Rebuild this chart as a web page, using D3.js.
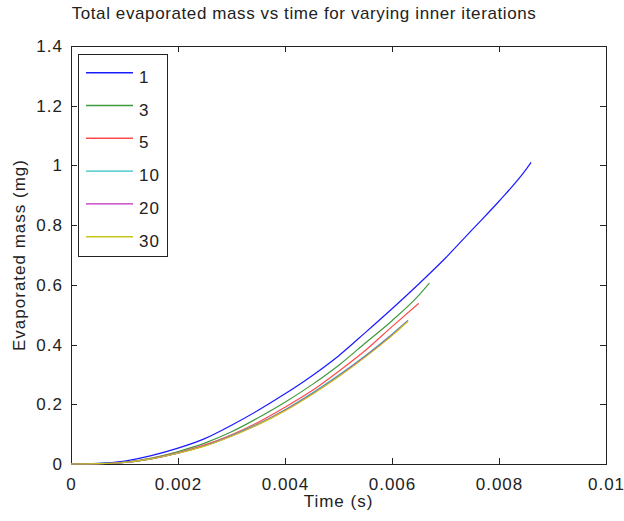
<!DOCTYPE html>
<html>
<head>
<meta charset="utf-8">
<script src="https://cdn.jsdelivr.net/npm/d3@7"></script>
<style>
  body { margin: 0; background: #fff; }
  text { font-family: "Liberation Sans", Arial, sans-serif; fill: #222; }
</style>
</head>
<body>
<script>
// values (time in s, mass in mg)
const seriesNames = ["1", "3", "5", "10", "20", "30"];
const seriesColors = ["#1a1aff", "#3f9a3f", "#ff4a4a", "#2fc2c2", "#bf2cbf", "#c6c61e"];

const time1 = [0, 0.0005, 0.001, 0.0015, 0.002, 0.0025, 0.003, 0.0035, 0.004, 0.0045, 0.005, 0.0055, 0.006, 0.0065, 0.007, 0.0075, 0.008, 0.0085, 0.0086];
const mass1 = [0, 0.002, 0.01, 0.028, 0.053, 0.085, 0.13, 0.18, 0.235, 0.295, 0.362, 0.44, 0.52, 0.603, 0.69, 0.785, 0.88, 0.985, 1.01];

const time3 = [0, 0.0005, 0.001, 0.0015, 0.002, 0.0025, 0.003, 0.0035, 0.004, 0.0045, 0.005, 0.0055, 0.006, 0.0065, 0.0067];
const mass3 = [0, 0.001, 0.006, 0.02, 0.042, 0.07, 0.108, 0.155, 0.207, 0.265, 0.33, 0.405, 0.48, 0.565, 0.606];

const time5 = [0, 0.0005, 0.001, 0.0015, 0.002, 0.0025, 0.003, 0.0035, 0.004, 0.0045, 0.005, 0.0055, 0.006, 0.0065];
const mass5 = [0, 0.001, 0.005, 0.018, 0.038, 0.064, 0.098, 0.14, 0.19, 0.245, 0.31, 0.38, 0.46, 0.538];

const time10 = [0, 0.0005, 0.001, 0.0015, 0.002, 0.0025, 0.003, 0.0035, 0.004, 0.0045, 0.005, 0.0055, 0.006, 0.0063];
const mass10 = [0, 0.001, 0.005, 0.017, 0.037, 0.061, 0.095, 0.135, 0.182, 0.237, 0.297, 0.363, 0.435, 0.481];

const time20 = [0, 0.0005, 0.001, 0.0015, 0.002, 0.0025, 0.003, 0.0035, 0.004, 0.0045, 0.005, 0.0055, 0.006, 0.0063];
const mass20 = [0, 0.001, 0.005, 0.017, 0.036, 0.061, 0.094, 0.133, 0.18, 0.234, 0.294, 0.36, 0.432, 0.48];

const time30 = [0, 0.0005, 0.001, 0.0015, 0.002, 0.0025, 0.003, 0.0035, 0.004, 0.0045, 0.005, 0.0055, 0.006, 0.0063];
const mass30 = [0, 0.001, 0.005, 0.017, 0.036, 0.06, 0.093, 0.132, 0.178, 0.232, 0.292, 0.358, 0.43, 0.478];

const xTicks = [0, 0.002, 0.004, 0.006, 0.008, 0.01];
const xTickLabels = ["0", "0.002", "0.004", "0.006", "0.008", "0.01"];
const yTicks = [0, 0.2, 0.4, 0.6, 0.8, 1, 1.2, 1.4];
const yTickLabels = ["0", "0.2", "0.4", "0.6", "0.8", "1", "1.2", "1.4"];

const titleText = "Total evaporated mass vs time for varying inner iterations";
const xLabelText = "Time (s)";
const yLabelText = "Evaporated mass (mg)";

const allTimes = [time1, time3, time5, time10, time20, time30];
const allMasses = [mass1, mass3, mass5, mass10, mass20, mass30];

let margin = null, width = null, height = null;
let svg = null, root = null;
let x = null, y = null;

setupCanvasSize();
appendSvg("body");
setupScales();
appendAxes();
appendLines();
appendLabels();
appendLegend();

function setupCanvasSize() {
  margin = {top: 46, left: 71, bottom: 57, right: 18};
  width = 624 - margin.left - margin.right;
  height = 521 - margin.top - margin.bottom;
}

function appendSvg(domElement) {
  root = d3.select(domElement).append("svg")
    .attr("width", 624)
    .attr("height", 521);
  svg = root.append("g")
    .attr("transform", `translate(${margin.left}, ${margin.top})`);
}

function setupScales() {
  x = d3.scaleLinear().domain([0, 0.01]).range([0, width]);
  y = d3.scaleLinear().domain([0, 1.4]).range([height, 0]);
}

function styleAxis(g) {
  g.selectAll("path").attr("stroke", "#222").attr("shape-rendering", "crispEdges");
  g.selectAll("line").attr("stroke", "#222").attr("shape-rendering", "crispEdges");
  g.selectAll("text").attr("font-size", 17).attr("fill", "#222")
    .attr("letter-spacing", 1)
    .attr("font-family", "'Liberation Sans', Arial, sans-serif");
}

function appendAxes() {
  // bottom + left with labels, top + right as mirrored ticks (box on)
  svg.append("g")
    .attr("transform", `translate(0, ${height})`)
    .call(d3.axisBottom(x).tickValues(xTicks)
      .tickFormat((d, i) => xTickLabels[i])
      .tickSizeInner(-6).tickSizeOuter(0).tickPadding(14))
    .call(styleAxis);

  svg.append("g")
    .call(d3.axisLeft(y).tickValues(yTicks)
      .tickFormat((d, i) => yTickLabels[i])
      .tickSizeInner(-6).tickSizeOuter(0).tickPadding(8))
    .call(styleAxis);

  svg.append("g")
    .call(d3.axisTop(x).tickValues(xTicks).tickFormat("")
      .tickSizeInner(-6).tickSizeOuter(0))
    .call(styleAxis);

  svg.append("g")
    .attr("transform", `translate(${width}, 0)`)
    .call(d3.axisRight(y).tickValues(yTicks).tickFormat("")
      .tickSizeInner(-6).tickSizeOuter(0))
    .call(styleAxis);
}

function appendLines() {
  const line = d3.line()
    .x(d => x(d[0]))
    .y(d => y(d[1]))
    .curve(d3.curveMonotoneX);

  seriesNames.forEach((name, i) => {
    const pts = allTimes[i].map((t, j) => [t, allMasses[i][j]]);
    svg.append("path")
      .datum(pts)
      .attr("fill", "none")
      .attr("stroke", seriesColors[i])
      .attr("stroke-width", 1.2)
      .attr("d", line);
  });
}

function appendLabels() {
  root.append("text")
    .attr("x", 304)
    .attr("y", 19)
    .attr("text-anchor", "middle")
    .attr("font-size", 17)
    .attr("letter-spacing", 0.6)
    .text(titleText);

  root.append("text")
    .attr("x", margin.left + width / 2)
    .attr("y", 507)
    .attr("text-anchor", "middle")
    .attr("font-size", 17)
    .attr("letter-spacing", 1)
    .text(xLabelText);

  root.append("text")
    .attr("transform", `translate(25, ${margin.top + height / 2}) rotate(-90)`)
    .attr("text-anchor", "middle")
    .attr("font-size", 17)
    .attr("letter-spacing", 1)
    .text(yLabelText);
}

function appendLegend() {
  const legend = root.append("g").attr("class", "legend");
  legend.append("rect")
    .attr("x", 78.5).attr("y", 54.5)
    .attr("width", 89).attr("height", 202)
    .attr("fill", "#fff").attr("stroke", "#222");

  const rows = legend.selectAll("g.row")
    .data(seriesNames)
    .enter()
    .append("g")
    .attr("class", "row")
    .attr("transform", (d, i) => `translate(0, ${72.7 + i * 32.8})`);

  rows.append("line")
    .attr("x1", 86).attr("x2", 133)
    .attr("stroke", (d, i) => seriesColors[i])
    .attr("stroke-width", 1.4);

  rows.append("text")
    .attr("x", 139)
    .attr("y", 10)
    .attr("font-size", 17)
    .attr("letter-spacing", 1)
    .text(d => d);
}
</script>
</body>
</html>
